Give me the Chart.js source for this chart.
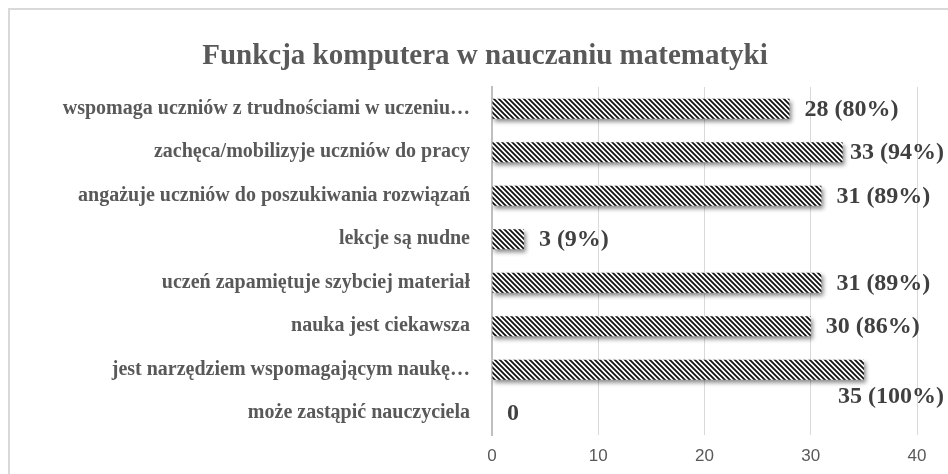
<!DOCTYPE html>
<html lang="pl">
<head>
<meta charset="UTF-8">
<title>Funkcja komputera w nauczaniu matematyki</title>
<script src="https://cdn.jsdelivr.net/npm/chart.js"></script>
<style>
    html, body { margin: 0; padding: 0; background: #fff; overflow: hidden; }
    .frame { position: absolute; left: 8px; top: 8px; width: 980px; height: 520px; border: 2px solid #d9d9d9; box-sizing: border-box; }
    .wrap { position: absolute; left: 0; top: 0; width: 948px; height: 474px; }
</style>
</head>
<body>
<div class="frame"></div>
<div class="wrap"><canvas id="chart" width="948" height="474"></canvas></div>
<script>
    const chartTitle = 'Funkcja komputera w nauczaniu matematyki';
    const categories = [
        'wspomaga uczniów z trudnościami w uczeniu…',
        'zachęca/mobilizyje uczniów do pracy',
        'angażuje uczniów do poszukiwania rozwiązań',
        'lekcje są nudne',
        'uczeń zapamiętuje szybciej materiał',
        'nauka jest ciekawsza',
        'jest narzędziem wspomagającym naukę…',
        'może zastąpić nauczyciela'
    ];
    const counts = [28, 33, 31, 3, 31, 30, 35, 0];
    const percents = [80, 94, 89, 9, 89, 86, 100, null];
    const xTicks = [0, 10, 20, 30, 40];

    const serif = '"Liberation Serif", "DejaVu Serif", serif';

    function hatch() {
        const s = 5;
        const c = document.createElement('canvas');
        c.width = s; c.height = s;
        const g = c.getContext('2d');
        g.fillStyle = '#fff';
        g.fillRect(0, 0, s, s);
        g.strokeStyle = '#111';
        g.lineWidth = 1.8;
        g.beginPath();
        g.moveTo(-1, -1); g.lineTo(s + 1, s + 1);
        g.moveTo(-1, s - 1); g.lineTo(1, s + 1);
        g.moveTo(s - 1, -1); g.lineTo(s + 1, 1);
        g.stroke();
        return g.createPattern(c, 'repeat');
    }

    const shadowPlugin = {
        id: 'barShadow',
        beforeDatasetsDraw(chart) {
            const ctx = chart.ctx;
            ctx.save();
            ctx.shadowColor = 'rgba(0,0,0,0.45)';
            ctx.shadowBlur = 4;
            ctx.shadowOffsetX = 2;
            ctx.shadowOffsetY = 3;
        },
        afterDatasetsDraw(chart) {
            chart.ctx.restore();
        }
    };

    // title centred on the whole frame, not only on the layout box
    const titlePlugin = {
        id: 'frameTitle',
        afterDraw(chart) {
            const ctx = chart.ctx;
            ctx.save();
            ctx.font = 'bold 29px ' + serif;
            ctx.fillStyle = '#595959';
            ctx.textAlign = 'center';
            ctx.textBaseline = 'middle';
            ctx.fillText(chartTitle, 485, 57);
            ctx.restore();
        }
    };

    const valueLabels = {
        id: 'valueLabels',
        afterDraw(chart) {
            const ctx = chart.ctx;
            const meta = chart.getDatasetMeta(0);
            const rowH = (chart.chartArea.bottom - chart.chartArea.top) / categories.length;
            ctx.save();
            ctx.font = 'bold 24px ' + serif;
            ctx.fillStyle = '#404040';
            ctx.textBaseline = 'middle';
            meta.data.forEach((bar, i) => {
                const text = percents[i] == null ? String(counts[i]) : counts[i] + ' (' + percents[i] + '%)';
                const w = ctx.measureText(text).width;
                let x = bar.x + 15;
                let y = bar.y + 1;
                const maxRight = chart.width - 4;
                if (x + w > maxRight) {
                    x = maxRight - w;
                    if (x < bar.x - 10) y += rowH * 0.6;
                }
                ctx.fillText(text, x, y);
            });
            ctx.restore();
        }
    };

    new Chart(document.getElementById('chart'), {
        type: 'bar',
        data: {
            labels: categories,
            datasets: [{
                data: counts,
                backgroundColor: hatch(),
                borderWidth: 0,
                barPercentage: 0.46,
                categoryPercentage: 1
            }]
        },
        options: {
            indexAxis: 'y',
            responsive: false,
            animation: false,
            layout: { padding: { left: 0, right: 31, top: 87, bottom: 0 } },
            plugins: {
                legend: { display: false },
                tooltip: { enabled: false },
                title: { display: false }
            },
            scales: {
                x: {
                    min: xTicks[0],
                    max: xTicks[xTicks.length - 1],
                    afterBuildTicks(scale) { scale.ticks = xTicks.map(v => ({ value: v })); },
                    afterFit(scale) { scale.height = 39; },
                    grid: { color: '#d9d9d9', lineWidth: 1, drawTicks: false },
                    border: { display: false },
                    ticks: { color: '#595959', padding: 11, font: { family: '"Liberation Sans", sans-serif', size: 17 } }
                },
                y: {
                    afterFit(scale) { scale.width = 492; },
                    grid: { display: false, drawTicks: false },
                    border: { display: true, color: '#bfbfbf', width: 2 },
                    ticks: { color: '#595959', padding: 22, font: { family: serif, size: 20, weight: 'bold' } }
                }
            }
        },
        plugins: [shadowPlugin, valueLabels, titlePlugin]
    });
</script>
</body>
</html>
